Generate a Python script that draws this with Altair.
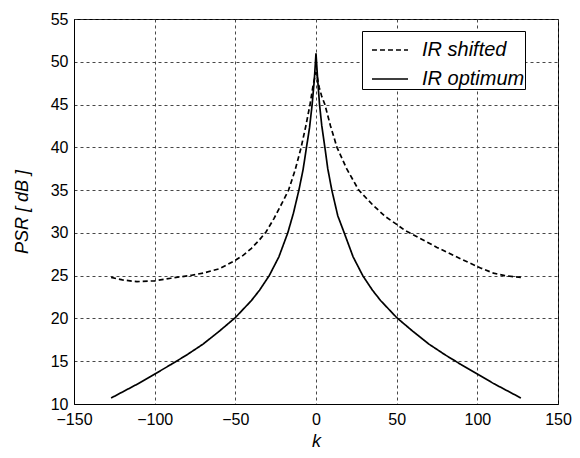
import altair as alt
import pandas as pd

# IR optimum (solid)
k_opt = [-127, -120, -110, -100, -90, -80, -70, -60, -50, -40, -35, -29, -23,
         -17.5, -14, -10.6, -8, -5.9, -4, -2.4, -1, 0, 1, 2.2, 3.6, 5.5, 7.3, 9.8, 13.5, 17.5,
         23, 29, 35, 40, 50, 60, 70, 80, 90, 100, 110, 120, 127]
psr_opt = [10.7, 11.4, 12.4, 13.5, 14.6, 15.75, 17.0, 18.5, 20.1, 22.1, 23.3, 25.0, 27.2,
           30.0, 32.3, 35.0, 37.4, 40.0, 42.3, 45.0, 48.0, 51.0, 48.0, 45.0, 42.5, 40.0, 37.5, 35.0, 32.0, 30.0,
           27.2, 25.0, 23.3, 22.1, 20.1, 18.5, 17.0, 15.75, 14.6, 13.5, 12.4, 11.4, 10.7]

# IR shifted (dashed)
k_sh = [-127, -120, -111, -100, -90, -77, -70, -60, -50, -45, -40, -35, -31, -26, -21,
        -17, -13, -9.2, -6.3, -3.7, -2, -1, 0, 1, 2, 3.5, 5.5, 9, 13, 19, 26.5, 35, 43,
        50, 55, 60, 68, 75, 86, 95, 102, 110, 117, 127]
psr_sh = [24.8, 24.5, 24.3, 24.4, 24.7, 25.05, 25.3, 25.8, 26.8, 27.4, 28.2, 29.2, 30.1, 31.7, 33.5,
          35.0, 37.3, 40.0, 42.5, 45.0, 47.0, 48.0, 48.8, 48.0, 47.0, 46.0, 45.0, 42.5, 40.0, 37.5, 35.0, 33.3, 31.9,
          31.0, 30.3, 29.8, 29.0, 28.3, 27.3, 26.5, 25.9, 25.3, 25.0, 24.8]

series_names = ["IR shifted", "IR optimum"]
x_ticks = [-150, -100, -50, 0, 50, 100, 150]
y_ticks = [10, 15, 20, 25, 30, 35, 40, 45, 50, 55]

df = pd.concat([
    pd.DataFrame({"k": k_sh, "psr": psr_sh, "series": series_names[0]}),
    pd.DataFrame({"k": k_opt, "psr": psr_opt, "series": series_names[1]}),
])

FONT = "Liberation Sans"

chart = alt.Chart(df).mark_line(color="black", strokeWidth=1.7).encode(
    x=alt.X("k:Q",
            scale=alt.Scale(domain=[-150, 150], nice=False, zero=False),
            axis=alt.Axis(values=x_ticks, title="k", titleFontStyle="italic",
                          titleFontSize=18, titleFontWeight="normal", titlePadding=5,
                          labelFlush=False, labelOverlap=False, labelPadding=7)),
    y=alt.Y("psr:Q",
            scale=alt.Scale(domain=[10, 55], nice=False, zero=False),
            axis=alt.Axis(values=y_ticks, title="PSR  [ dB ]", titleFontStyle="italic",
                          titleFontSize=18, titleFontWeight="normal", titlePadding=19,
                          labelFlush=False, labelOverlap=False, labelPadding=6)),
    strokeDash=alt.StrokeDash(
        "series:N",
        scale=alt.Scale(domain=series_names, range=[[5, 3], [1, 0]]),
        legend=alt.Legend(orient="none", legendX=288, legendY=12, title=None,
                          strokeColor="black", fillColor="white", padding=0,
                          rowPadding=0, symbolType="stroke", symbolSize=1300,
                          symbolOffset=9, symbolStrokeWidth=1.7, symbolStrokeColor="black",
                          labelFont=FONT, labelFontSize=20, labelFontStyle="italic",
                          labelOffset=13, labelLimit=300, labelColor="black"),
    ),
    order=alt.Order("k:Q"),
).properties(
    width=484, height=385,
    background="white",
    autosize=alt.AutoSizeParams(type="none"),
    padding={"left": 66, "top": 11, "right": 14, "bottom": 46},
).configure_view(
    stroke="black", strokeWidth=1
).configure_axis(
    labelFont=FONT, labelFontSize=16, labelColor="black",
    titleFont=FONT, titleColor="black",
    domainColor="black", domainWidth=1,
    ticks=False,
    grid=True, gridColor="#333333", gridDash=[3, 3], gridWidth=1, gridOpacity=0.9,
)

chart.save("out.html", embed_options={"renderer": "svg", "actions": False})
